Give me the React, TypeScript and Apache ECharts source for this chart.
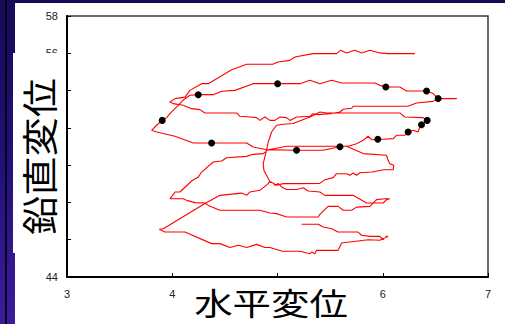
import React, { useEffect, useRef } from "react";
import * as echarts from "echarts";

// Axis settings
const xMin = 3;
const xMax = 7;
const xStep = 1;
const yMin = 44;
const yMax = 58;
const yStep = 2;

const xTitle = "水平変位";
const yTitle = "鉛直変位";

// Trajectory, in drawing order
const topRow: number[][] = [
  [6.305, 55.98], [6.051, 55.98], [5.973, 56.02], [5.878, 56.16], [5.799, 56.02], [5.735, 56.16],
  [5.656, 56.02], [5.599, 56.16], [5.561, 55.98], [5.403, 55.98], [5.336, 55.98], [5.165, 55.8],
  [5.118, 55.62], [5.004, 55.53], [4.956, 55.41], [4.707, 55.41], [4.564, 55.12], [4.342, 54.37],
  [4.279, 54.37], [4.168, 54.01], [4.121, 53.65], [4.026, 53.57], [3.978, 53.39],
];

const secondRow: number[][] = [
  [4.009, 53.3], [4.104, 53.21], [4.184, 53.03], [4.263, 52.98], [4.311, 52.8], [4.612, 52.8],
  [4.643, 52.62], [4.738, 52.58], [4.802, 52.55], [4.833, 52.4], [4.88, 52.58], [4.928, 52.4],
  [4.975, 52.4], [5.023, 52.58], [5.086, 52.55], [5.118, 52.4], [5.181, 52.58], [5.308, 52.62],
  [5.336, 52.76], [5.387, 52.71], [5.498, 52.76], [5.593, 52.85], [5.624, 53.0], [5.704, 53.05],
  [5.719, 53.16], [6.238, 53.16], [6.321, 53.33], [6.476, 53.42], [6.526, 53.57], [6.704, 53.57],
  [6.526, 53.57],
];

const dottedRows: number[][] = [
  [6.479, 53.84], [6.416, 53.98], [6.226, 53.98], [6.162, 54.19], [6.029, 54.19], [5.972, 54.28],
  [5.925, 54.41], [5.609, 54.41], [5.514, 54.55], [5.403, 54.37], [5.308, 54.55], [5.213, 54.37],
  [5.001, 54.37], [4.769, 54.37], [4.595, 54.01], [4.469, 53.96], [4.389, 53.78], [4.247, 53.78],
  [4.168, 53.75], [4.102, 53.48], [4.042, 53.12], [3.978, 52.76], [3.947, 52.55], [3.905, 52.4],
  [3.852, 52.14], [3.804, 51.87], [3.852, 51.78], [4.026, 51.55], [4.199, 51.19], [4.374, 51.19],
  [4.707, 51.19], [4.769, 50.97], [4.896, 50.83], [5.181, 50.8], [5.434, 50.8], [5.593, 50.99],
  [5.688, 51.04], [5.751, 51.15], [5.814, 51.33], [5.861, 51.55], [5.897, 51.36], [5.953, 51.39],
  [6.004, 51.39], [6.099, 51.42], [6.131, 51.6], [6.21, 51.6], [6.241, 51.78], [6.289, 51.87],
  [6.336, 51.78], [6.352, 52.05], [6.368, 52.17], [6.4, 52.3], [6.422, 52.4],
];

const spikeRow: number[][] = [
  [6.384, 52.55], [6.21, 52.58], [6.162, 52.8], [5.466, 52.8], [5.403, 52.85], [5.371, 52.76],
  [5.308, 52.58], [5.149, 52.23], [5.054, 52.19], [4.991, 52.14], [4.944, 51.78], [4.912, 51.24],
  [4.896, 50.8], [4.88, 50.44], [4.864, 50.08], [4.871, 49.72], [4.896, 49.46], [4.912, 49.28],
  [4.928, 49.09], [4.959, 49.04], [4.975, 48.92], [5.007, 49.01], [5.039, 48.83], [5.086, 48.69],
  [5.181, 48.69], [5.244, 48.79], [5.292, 48.61], [5.403, 48.56], [5.45, 48.38], [5.719, 48.38],
  [5.846, 47.97], [6.004, 47.97], [6.036, 48.15], [6.067, 48.2],
];

const fifthRow: number[][] = [
  [6.02, 48.2], [5.941, 48.15], [5.878, 47.79], [5.751, 47.75], [5.704, 47.58], [5.624, 47.58],
  [5.576, 47.79], [5.481, 47.79], [5.403, 47.36], [5.387, 47.22], [5.086, 47.22], [4.991, 47.4],
  [4.928, 47.43], [4.833, 47.58], [4.453, 47.58], [4.342, 47.84], [4.311, 47.97], [4.216, 47.99],
  [4.137, 48.11], [4.104, 48.2], [3.978, 48.2],
];

const risingRow: number[][] = [
  [4.004, 48.38], [4.026, 48.56], [4.073, 48.56], [4.184, 49.15], [4.247, 49.36], [4.279, 49.63],
  [4.389, 50.17], [4.469, 50.22], [4.517, 50.4], [4.707, 50.47], [4.769, 50.58], [4.864, 50.62],
  [4.912, 50.83], [5.086, 51.01], [5.656, 51.01], [5.814, 50.62], [6.036, 50.53], [6.051, 50.26],
  [6.067, 50.08], [6.105, 49.99],
];

const diagonalRow: number[][] = [
  [6.099, 49.76], [6.01, 49.75], [5.897, 49.63], [5.783, 49.59], [5.751, 49.46], [5.719, 49.58],
  [5.688, 49.46], [5.656, 49.54], [5.561, 49.54], [5.529, 49.33], [5.45, 49.22], [5.403, 49.02],
  [5.213, 49.01], [5.118, 49.01], [5.054, 49.01], [4.991, 48.92], [4.928, 49.13], [4.912, 49.01],
  [4.833, 48.65], [4.738, 48.56], [4.707, 48.38], [4.659, 48.5], [4.453, 48.38], [4.311, 47.94],
  [3.915, 46.59], [3.877, 46.56],
];

const bottomRows: number[][] = [
  [3.931, 46.41], [4.121, 46.41], [4.374, 45.79], [4.453, 45.79], [4.548, 45.58], [4.627, 45.7],
  [4.707, 45.58], [4.802, 45.75], [4.88, 45.58], [4.928, 45.58], [5.039, 45.39], [5.213, 45.38],
  [5.308, 45.25], [5.324, 45.34], [5.355, 45.25], [5.371, 45.43], [5.576, 45.43], [5.609, 45.82],
  [5.861, 46.0], [5.972, 45.97], [6.051, 46.18], [6.036, 46.18], [6.004, 46.0], [5.972, 46.18],
  [5.878, 46.18], [5.799, 46.24], [5.766, 46.41], [5.576, 46.41], [5.514, 46.59], [5.434, 46.68],
  [5.387, 46.83], [5.229, 46.83],
];

const markedPoints: number[][] = [
  [3.905, 52.4], [4.247, 53.78], [4.374, 51.19], [5.001, 54.37], [5.181, 50.8], [5.593, 50.99],
  [5.953, 51.39], [6.029, 54.19], [6.241, 51.78], [6.368, 52.17], [6.422, 52.4], [6.416, 53.98],
  [6.526, 53.57],
];

const trajectory = [
  ...topRow, ...secondRow, ...dottedRows, ...spikeRow, ...fifthRow,
  ...risingRow, ...diagonalRow, ...bottomRows,
];

export default function App() {
  const ref = useRef<HTMLDivElement>(null);

  useEffect(() => {
    if (!ref.current) return;
    const chart = echarts.init(ref.current, null, { renderer: "svg" });
    const tickFont = { fontFamily: "Liberation Sans, Arial, sans-serif", fontSize: 11, color: "#222" };
    chart.setOption({
      animation: false,
      backgroundColor: "transparent",
      grid: {
        left: 67,
        top: 16,
        right: 17,
        bottom: 47,
        show: true,
        borderColor: "#3a3a3a",
        borderWidth: 1.5,
        backgroundColor: "transparent",
      },
      xAxis: {
        type: "value",
        min: xMin,
        max: xMax,
        interval: xStep,
        axisLine: { show: true, onZero: false, lineStyle: { color: "#000", width: 2 } },
        axisTick: { show: true, inside: true, length: 4, lineStyle: { color: "#000", width: 1 } },
        axisLabel: { ...tickFont, margin: 11 },
        splitLine: { show: false },
      },
      yAxis: {
        type: "value",
        min: yMin,
        max: yMax,
        interval: yStep,
        axisLine: { show: true, onZero: false, lineStyle: { color: "#000", width: 2 } },
        axisTick: { show: true, inside: true, length: 4, lineStyle: { color: "#000", width: 1 } },
        axisLabel: { ...tickFont, margin: 9 },
        splitLine: { show: false },
      },
      series: [
        {
          type: "line",
          data: trajectory,
          showSymbol: false,
          symbol: "none",
          lineStyle: { color: "#ff0000", width: 1.1 },
          z: 2,
        },
        {
          type: "scatter",
          data: markedPoints,
          symbol: "circle",
          symbolSize: 7,
          itemStyle: { color: "#000", opacity: 1 },
          z: 3,
        },
      ],
      graphic: [
        { type: "rect", z: -10, shape: { x: 15, y: 3, width: 490, height: 321 }, style: { fill: "#ffffff" } },
        { type: "rect", z: -9, shape: { x: 5, y: 0, width: 2, height: 324 }, style: { fill: "#05030f" } },
        { type: "rect", z: 100, shape: { x: 13, y: 53, width: 50, height: 200 }, style: { fill: "#ffffff" } },
        { type: "rect", z: 100, shape: { x: 190, y: 284, width: 165, height: 40 }, style: { fill: "#ffffff" } },
        {
          type: "text",
          z: 101,
          x: 38.5,
          y: 156.5,
          rotation: Math.PI / 2,
          scaleX: 1.09,
          style: {
            text: yTitle,
            fill: "#000",
            font: "36px 'Noto Sans CJK JP', sans-serif",
            align: "center",
            verticalAlign: "middle",
          },
        },
        {
          type: "text",
          z: 101,
          x: 271,
          y: 302,
          scaleX: 1.24,
          style: {
            text: xTitle,
            fill: "#000",
            font: "31px 'Noto Sans CJK JP', sans-serif",
            align: "center",
            verticalAlign: "middle",
          },
        },
      ],
    });
    return () => chart.dispose();
  }, []);

  return (
    <div
      style={{
        position: "fixed",
        left: 0,
        top: 0,
        width: 505,
        height: 324,
        background: "linear-gradient(180deg, #160a58 0%, #22107a 50%, #3c1c9e 100%)",
      }}
    >
      <div ref={ref} style={{ width: 505, height: 324 }} />
    </div>
  );
}
